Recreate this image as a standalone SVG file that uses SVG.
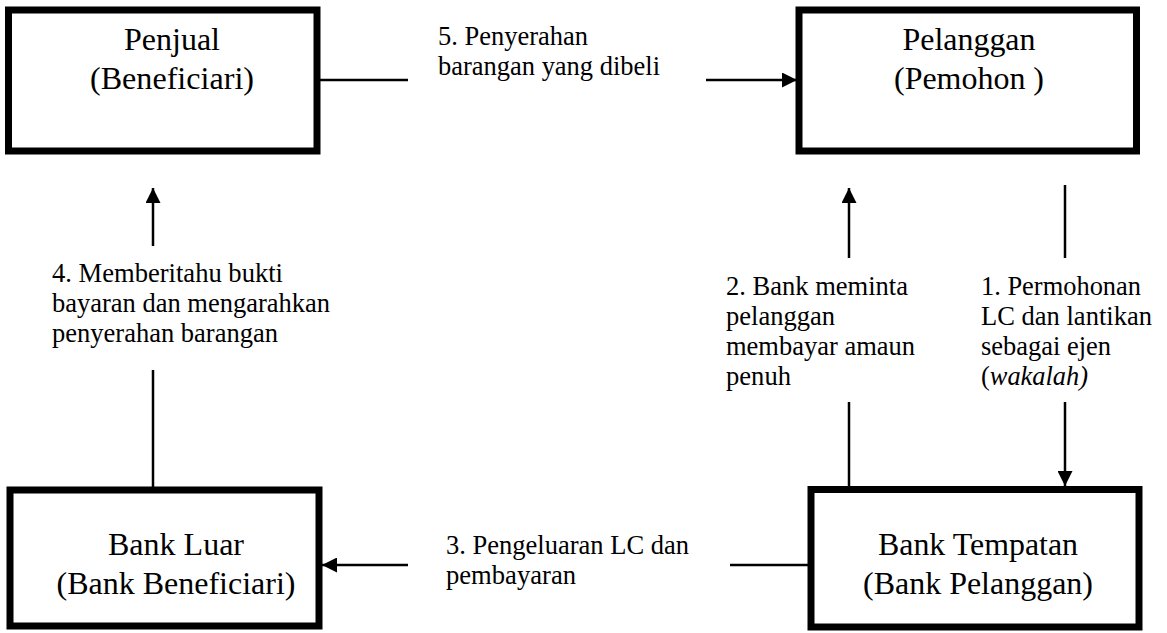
<svg xmlns="http://www.w3.org/2000/svg" width="1167" height="633" viewBox="0 0 1167 633">
  <style>
    .box { fill: #ffffff; stroke: #000000; stroke-width: 7; }
    .title { font-size: 32px; fill: #000000; text-anchor: middle; }
    .label { font-size: 26.5px; fill: #000000; }
    .wire { stroke: #000000; stroke-width: 2.5; fill: none; }
    .wire-end { stroke: #000000; stroke-width: 2.5; fill: none; marker-end: url(#head); }
  </style>
  <defs>
    <marker id="head" viewBox="0 0 10 10" refX="10" refY="5" markerUnits="userSpaceOnUse" markerWidth="15" markerHeight="15" orient="auto">
      <path d="M0,0 L10,5 L0,10 Z" fill="#000000"/>
    </marker>
  </defs>
  <rect width="1167" height="633" fill="#ffffff"/>

  <g font-family="'Liberation Serif', 'Times New Roman', Times, Tinos, 'DejaVu Serif', 'Noto Serif', FreeSerif, serif">
    <!-- Parties -->
    <g id="penjual">
      <rect class="box" x="8.5" y="10" width="308.5" height="141"/>
      <text class="title" x="172" y="50" textLength="96" lengthAdjust="spacingAndGlyphs">Penjual</text>
      <text class="title" x="172" y="89" textLength="164" lengthAdjust="spacingAndGlyphs">(Beneficiari)</text>
    </g>
    <g id="pelanggan">
      <rect class="box" x="799" y="10" width="337.5" height="141"/>
      <text class="title" x="969" y="50" textLength="133" lengthAdjust="spacingAndGlyphs">Pelanggan</text>
      <text class="title" x="969" y="89" textLength="150" lengthAdjust="spacingAndGlyphs">(Pemohon )</text>
    </g>
    <g id="bank-luar">
      <rect class="box" x="10" y="490" width="309" height="136"/>
      <text class="title" x="176" y="555" textLength="136" lengthAdjust="spacingAndGlyphs">Bank Luar</text>
      <text class="title" x="176" y="594" textLength="239" lengthAdjust="spacingAndGlyphs">(Bank Beneficiari)</text>
    </g>
    <g id="bank-tempatan">
      <rect class="box" x="811" y="489.5" width="328" height="137.5"/>
      <text class="title" x="978" y="555" textLength="200" lengthAdjust="spacingAndGlyphs">Bank Tempatan</text>
      <text class="title" x="978" y="594" textLength="230" lengthAdjust="spacingAndGlyphs">(Bank Pelanggan)</text>
    </g>

    <!-- Flows between parties -->
    <g id="connectors">
      <!-- 5: seller to customer -->
      <line class="wire" x1="317" y1="80" x2="408" y2="80"/>
      <line class="wire-end" x1="706" y1="80" x2="797" y2="80"/>
      <!-- 4: foreign bank to seller -->
      <line class="wire-end" x1="153" y1="246" x2="153" y2="188"/>
      <line class="wire" x1="153" y1="370" x2="153" y2="487"/>
      <!-- 2: local bank to customer -->
      <line class="wire-end" x1="849" y1="258" x2="849" y2="188"/>
      <line class="wire" x1="849" y1="402" x2="849" y2="487"/>
      <!-- 1: customer to local bank -->
      <line class="wire" x1="1065" y1="185" x2="1065" y2="258"/>
      <line class="wire-end" x1="1065" y1="402" x2="1065" y2="486"/>
      <!-- 3: local bank to foreign bank -->
      <line class="wire" x1="730" y1="565" x2="808" y2="565"/>
      <line class="wire-end" x1="408" y1="565" x2="322" y2="565"/>
    </g>

    <!-- Step labels -->
    <g id="label-5">
      <text class="label" x="438" y="45" textLength="150" lengthAdjust="spacingAndGlyphs">5. Penyerahan</text>
      <text class="label" x="438" y="75" textLength="222" lengthAdjust="spacingAndGlyphs">barangan yang dibeli</text>
    </g>
    <g id="label-4">
      <text class="label" x="52" y="282" textLength="231" lengthAdjust="spacingAndGlyphs">4. Memberitahu bukti</text>
      <text class="label" x="52" y="312" textLength="278" lengthAdjust="spacingAndGlyphs">bayaran dan mengarahkan</text>
      <text class="label" x="52" y="342" textLength="226" lengthAdjust="spacingAndGlyphs">penyerahan barangan</text>
    </g>
    <g id="label-2">
      <text class="label" x="726" y="295" textLength="182" lengthAdjust="spacingAndGlyphs">2. Bank meminta</text>
      <text class="label" x="726" y="325" textLength="109" lengthAdjust="spacingAndGlyphs">pelanggan</text>
      <text class="label" x="726" y="355" textLength="189" lengthAdjust="spacingAndGlyphs">membayar amaun</text>
      <text class="label" x="726" y="385" textLength="65" lengthAdjust="spacingAndGlyphs">penuh</text>
    </g>
    <g id="label-1">
      <text class="label" x="981" y="295" textLength="160" lengthAdjust="spacingAndGlyphs">1. Permohonan</text>
      <text class="label" x="981" y="325" textLength="171" lengthAdjust="spacingAndGlyphs">LC dan lantikan</text>
      <text class="label" x="981" y="355" textLength="130" lengthAdjust="spacingAndGlyphs">sebagai ejen</text>
      <text class="label" x="981" y="385" textLength="107" lengthAdjust="spacingAndGlyphs">(<tspan font-style="italic">wakalah)</tspan></text>
    </g>
    <g id="label-3">
      <text class="label" x="446" y="554" textLength="243" lengthAdjust="spacingAndGlyphs">3. Pengeluaran LC dan</text>
      <text class="label" x="446" y="584" textLength="130" lengthAdjust="spacingAndGlyphs">pembayaran</text>
    </g>
  </g>
</svg>
